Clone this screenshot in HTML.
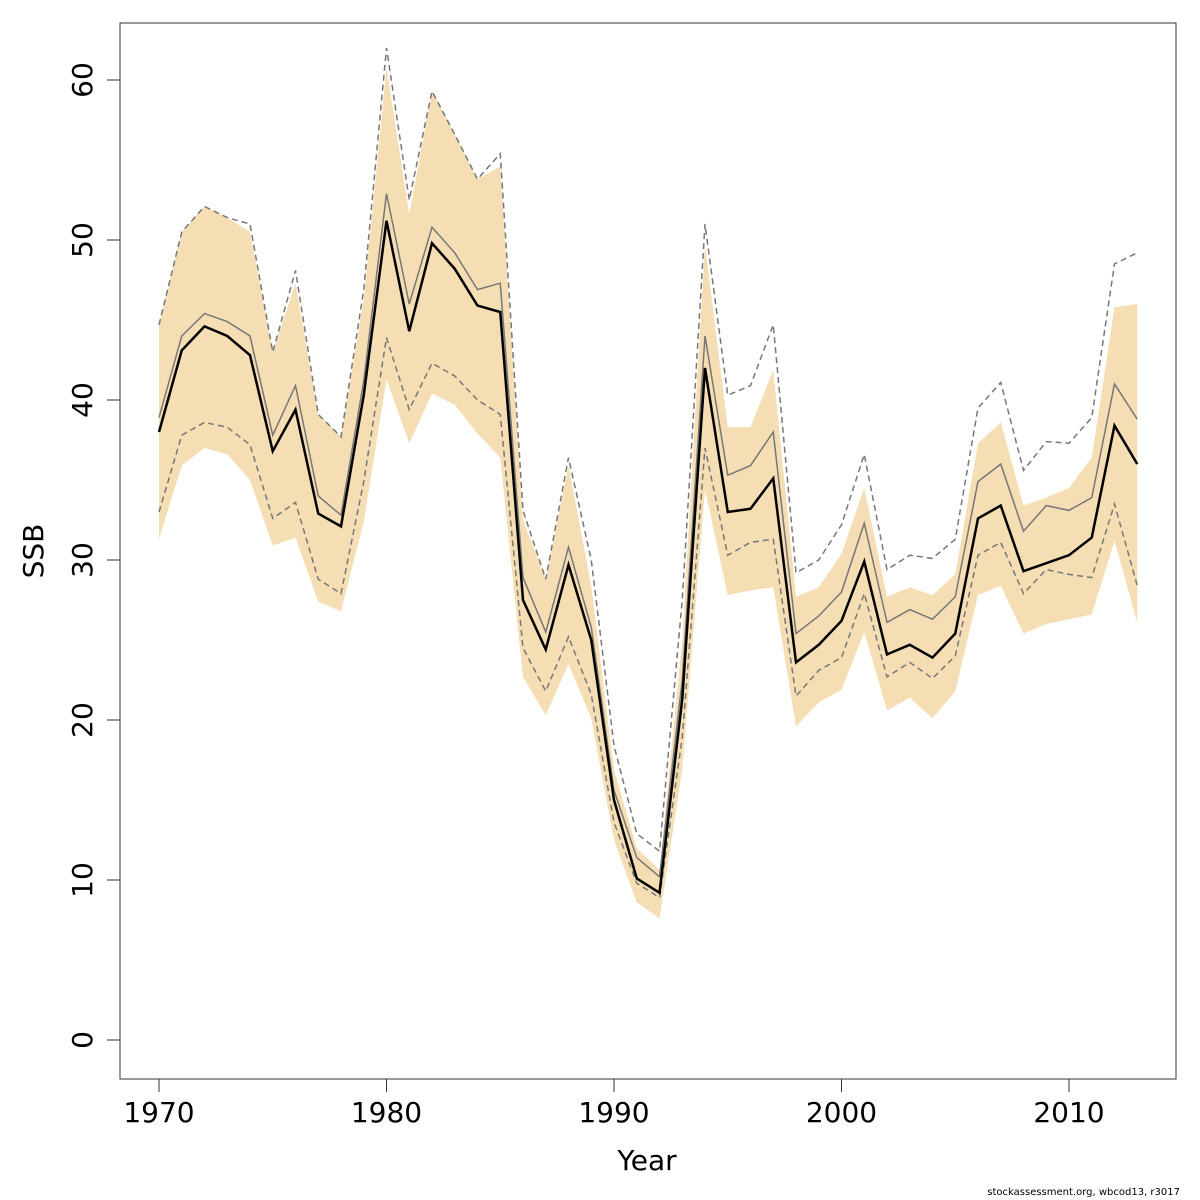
<!DOCTYPE html>
<html><head><meta charset="utf-8"><style>
html,body{margin:0;padding:0;background:#fff;}
svg{display:block;font-family:"DejaVu Sans","Liberation Sans",sans-serif;}
</style></head><body>
<svg id="chart" width="1200" height="1200" viewBox="0 0 1200 1200" xmlns="http://www.w3.org/2000/svg">
<rect width="1200" height="1200" fill="#fff"/>
<g id="plot"></g>
<rect x="120" y="23" width="1056" height="1056" fill="none" stroke="#333" stroke-width="1"/>
<g id="axes"></g>
<text x="647" y="1170" font-size="28" text-anchor="middle" fill="#000">Year</text>
<text transform="translate(43,551) rotate(-90)" font-size="28" text-anchor="middle" fill="#000">SSB</text>
<text x="1180" y="1195" font-size="10" text-anchor="end" fill="#000">stockassessment.org, wbcod13, r3017</text>
</svg>
<script>
const years = [1970,1971,1972,1973,1974,1975,1976,1977,1978,1979,1980,1981,1982,1983,1984,1985,1986,1987,1988,1989,1990,1991,1992,1993,1994,1995,1996,1997,1998,1999,2000,2001,2002,2003,2004,2005,2006,2007,2008,2009,2010,2011,2012,2013];
const ssbEstimate = [38.0,43.1,44.6,44.0,42.8,36.8,39.4,32.9,32.1,40.3,51.2,44.3,49.8,48.2,45.9,45.5,27.5,24.4,29.7,25.0,15.0,10.1,9.2,21.3,42.0,33.0,33.2,35.1,23.6,24.7,26.2,29.9,24.1,24.7,23.9,25.4,32.6,33.4,29.3,29.8,30.3,31.4,38.4,36.0];
const ssbAlt = [38.9,44.0,45.4,44.9,44.0,37.8,40.9,34.0,32.8,41.2,52.9,46.0,50.8,49.2,46.9,47.3,28.9,25.5,30.8,25.8,15.6,11.4,10.2,22.5,44.0,35.3,35.9,38.0,25.4,26.5,28.0,32.3,26.1,26.9,26.3,27.7,34.9,36.0,31.8,33.4,33.1,33.9,41.0,38.8];
const altUpper = [44.7,50.5,52.1,51.4,51.0,43.0,48.1,39.1,37.7,46.9,62.0,52.5,59.3,56.6,53.8,55.4,33.1,28.8,36.4,30.0,18.4,12.9,11.8,27.5,51.0,40.3,40.9,44.7,29.2,30.0,32.2,36.6,29.4,30.3,30.1,31.3,39.5,41.1,35.6,37.4,37.3,38.9,48.5,49.2];
const altLower = [33.0,37.8,38.6,38.3,37.2,32.6,33.6,28.8,27.9,34.9,43.9,39.4,42.3,41.5,40.0,39.1,24.5,21.8,25.2,21.6,13.6,9.8,8.9,18.9,37.0,30.3,31.1,31.3,21.5,23.1,23.9,27.9,22.7,23.6,22.6,24.0,30.3,31.1,27.9,29.4,29.1,28.9,33.5,28.4];
const bandUpper = [44.7,50.5,52.1,51.4,50.5,43.0,47.3,39.1,37.7,46.3,60.8,51.6,59.3,56.6,53.8,54.6,32.5,28.8,35.9,28.4,16.9,12.0,10.6,25.0,49.7,38.3,38.3,41.9,27.7,28.3,30.4,34.5,27.7,28.3,27.8,29.1,37.3,38.6,33.4,33.9,34.5,36.4,45.8,46.0];
const bandLower = [31.3,35.9,37.0,36.6,35.0,30.9,31.4,27.4,26.8,32.4,41.3,37.3,40.4,39.7,37.9,36.4,22.7,20.3,23.5,20.1,12.5,8.6,7.6,16.9,34.4,27.8,28.1,28.3,19.6,21.1,21.9,25.5,20.6,21.4,20.1,21.8,27.8,28.4,25.4,26.0,26.3,26.6,31.2,26.1];
const xTicks = [1970,1980,1990,2000,2010];
const yTicks = [0,10,20,30,40,50,60];

const NS = "http://www.w3.org/2000/svg";
function xs(y){ return 159 + (y-1970)*22.75; }
function ys(v){ return 1040 - v*16; }
const plot = document.getElementById('plot');
const axes = document.getElementById('axes');
function mk(tag, attrs, parent){ const e=document.createElementNS(NS,tag); for(const k in attrs) e.setAttribute(k,attrs[k]); parent.appendChild(e); return e; }

let bd = years.map((y,i)=>xs(y)+','+ys(bandUpper[i])).join(' ') + ' ' + years.slice().reverse().map((y,j)=>{const i=years.length-1-j; return xs(y)+','+ys(bandLower[i]);}).join(' ');
const band = mk('polygon',{points:bd, fill:'#f5deb3', stroke:'none'},plot);



function line(arr, stroke, w, dash, name){
  const p = mk('polyline',{points:years.map((y,i)=>xs(y)+','+ys(arr[i])).join(' '), fill:'none', stroke:stroke, 'stroke-width':w},plot);
  if(dash) p.setAttribute('stroke-dasharray',dash);
  
  
}
line(altUpper,'#777',1.5,'6,4','alt-upper-dashed');
line(altLower,'#777',1.5,'6,4','alt-lower-dashed');
line(ssbAlt,'#777',1.5,null,'alt-ssb-line');
line(ssbEstimate,'#000',2.5,null,'ssb-estimate-line');

mk('line',{x1:xs(1970),x2:xs(2010),y1:1079,y2:1079,stroke:'#333'},axes);
xTicks.forEach(t=>{
  const l=mk('line',{x1:xs(t),x2:xs(t),y1:1079,y2:1092,stroke:'#333'},axes);
  
  
  const tx=mk('text',{x:xs(t),y:1122,'font-size':28,'text-anchor':'middle',fill:'#000'},axes);
  tx.textContent=t;
  
  
});
mk('line',{x1:120,x2:120,y1:ys(0),y2:ys(60),stroke:'#333'},axes);
yTicks.forEach(t=>{
  const l=mk('line',{x1:107,x2:120,y1:ys(t),y2:ys(t),stroke:'#333'},axes);
  
  
  const tx=mk('text',{transform:'translate(92,'+ys(t)+') rotate(-90)','font-size':28,'text-anchor':'middle',fill:'#000'},axes);
  tx.textContent=t;
  
  
});
</script>
</body></html>
